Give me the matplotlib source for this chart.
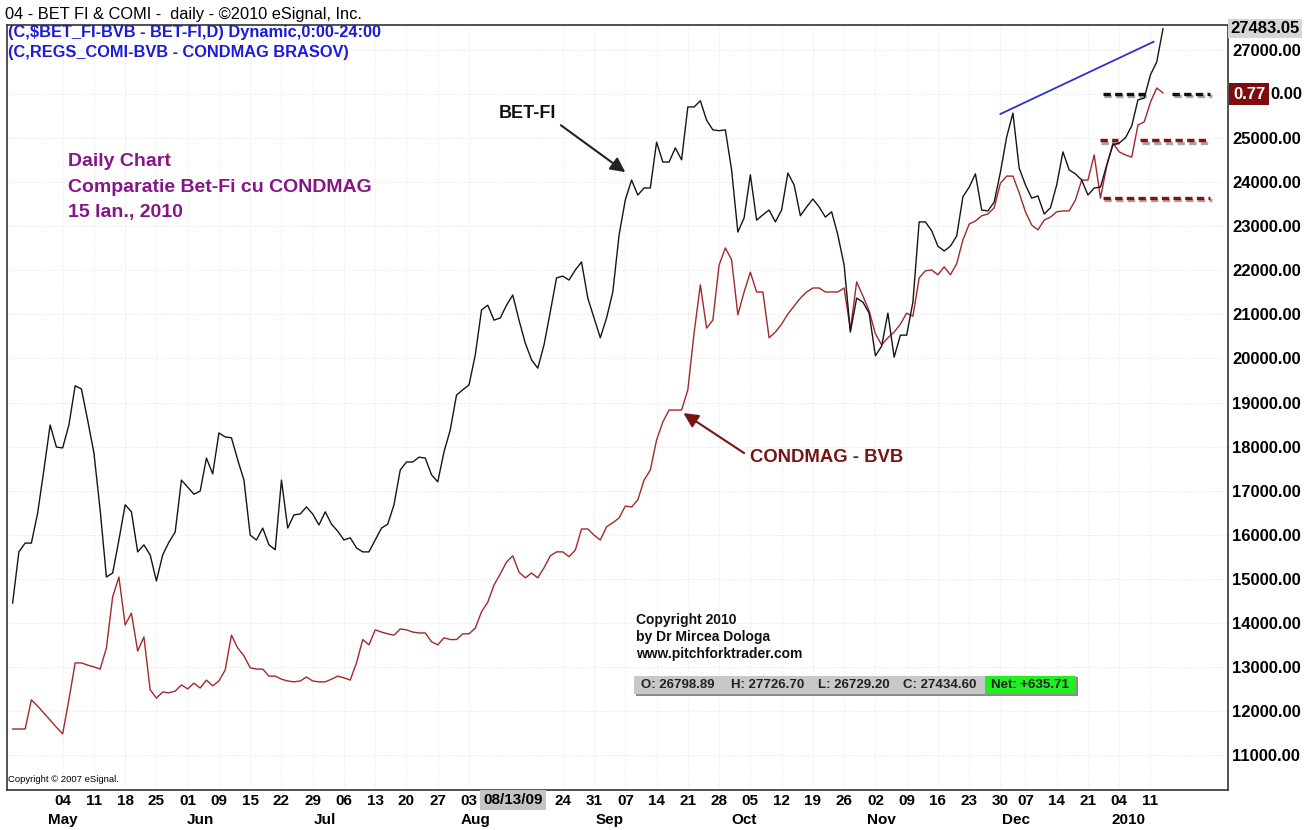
import numpy as np
import matplotlib.pyplot as plt
import matplotlib.transforms as mtransforms
import matplotlib.patheffects as pe
from matplotlib.patches import Rectangle

plt.rcParams['font.family'] = ['Liberation Sans', 'DejaVu Sans']

# daily closes, BET-FI (black) and CONDMAG scaled onto the same axis (red)
bet_fi = [14450, 15610, 15810, 15810, 16490, 17470, 18490, 17990, 17970, 18490,
          19380, 19310, 18600, 17860, 16560, 15040, 15130, 15880, 16680, 16520,
          15610, 15770, 15540, 14950, 15540, 15830, 16060, 17240, 17080, 16920,
          16990, 17740, 17380, 18310, 18220, 18200, 17700, 17240, 15990, 15880,
          16150, 15770, 15660, 17240, 16150, 16450, 16470, 16630, 16470, 16220,
          16520, 16240, 16080, 15880, 15930, 15700, 15610, 15610, 15880, 16150,
          16240, 16680, 17470, 17650, 17650, 17760, 17740, 17360, 17200, 17880,
          18380, 19170, 19290, 19400, 20080, 21100, 21210, 20870, 20920, 21210,
          21440, 20870, 20350, 19970, 19780, 20310, 21060, 21830, 21870, 21780,
          22010, 22190, 21370, 20920, 20470, 20920, 21510, 22800, 23600, 24050,
          23710, 23870, 23870, 24910, 24460, 24460, 24780, 24510, 25710, 25710,
          25850, 25410, 25190, 25170, 25190, 24280, 22870, 23190, 24170, 23140,
          23260, 23370, 23100, 23370, 24210, 23940, 23240, 23440, 23620, 23440,
          23210, 23330, 22800, 22120, 20600, 21370, 21280, 21030, 20060, 20280,
          21030, 20030, 20530, 20530, 21280, 23100, 23100, 22900, 22550, 22440,
          22550, 22780, 23670, 23890, 24190, 23370, 23350, 23550, 24230, 25030,
          25570, 24320, 23940, 23640, 23690, 23280, 23420, 23940, 24690, 24280,
          24190, 24050, 23710, 23870, 23890, 24390, 24850, 24890, 25010, 25280,
          25870, 25910, 26440, 26730, 27483]

condmag = [11590, 11590, 11590, 12250, 12110, 11950, 11790, 11630, 11480, 12250,
           13090, 13090, 13040, 13000, 12950, 13430, 14590, 15040, 13950, 14220,
           13360, 13680, 12480, 12290, 12430, 12410, 12450, 12590, 12500, 12630,
           12520, 12700, 12570, 12680, 12930, 13720, 13430, 13250, 12980, 12950,
           12950, 12790, 12790, 12720, 12680, 12660, 12680, 12770, 12680, 12660,
           12660, 12720, 12790, 12750, 12700, 13090, 13620, 13500, 13840, 13790,
           13750, 13720, 13860, 13840, 13790, 13770, 13770, 13570, 13500, 13660,
           13620, 13620, 13750, 13750, 13880, 14250, 14470, 14860, 15110, 15380,
           15520, 15150, 15020, 15130, 15020, 15250, 15520, 15610, 15610, 15500,
           15650, 16130, 16130, 15990, 15880, 16180, 16270, 16380, 16650, 16630,
           16790, 17240, 17470, 18150, 18560, 18830, 18830, 18830, 19290, 20580,
           21670, 20690, 20870, 22120, 22510, 22240, 20990, 21510, 21960, 21510,
           21510, 20470, 20600, 20780, 21010, 21190, 21370, 21510, 21600, 21600,
           21510, 21510, 21510, 21600, 20650, 21740, 21420, 21080, 20560, 20310,
           20470, 20600, 20780, 21030, 20960, 21830, 21990, 22010, 21900, 22080,
           21900, 22150, 22690, 23050, 23120, 23240, 23280, 23420, 23980, 24140,
           24140, 23760, 23330, 23030, 22920, 23140, 23210, 23330, 23350, 23350,
           23600, 24050, 24050, 24620, 23640, 24370, 24890, 24690, 24620, 24570,
           25300, 25370, 25820, 26140, 26030]

tick_pos = [8, 13, 18, 23, 28, 33, 38, 43, 48, 53, 58, 63, 68, 73, 88, 93, 98,
            103, 108, 113, 118, 123, 128, 133, 138, 143, 148, 153, 158, 162,
            167, 172, 177, 182]
tick_lbl = ["04", "11", "18", "25", "01", "09", "15", "22", "29", "06", "13",
            "20", "27", "03", "24", "31", "07", "14", "21", "28", "05", "12",
            "19", "26", "02", "09", "16", "23", "30", "07", "14", "21", "04", "11"]
months = ["May", "Jun", "Jul", "Aug", "Sep", "Oct", "Nov", "Dec", "2010"]
month_pos = [8, 30, 50, 74, 95.5, 117, 139, 160.5, 178.5]
cursor_pos = 80
cursor_lbl = "08/13/09"
last_price = 27483.05
ratio_flag = "0.77"
ratio_level = 26000

# drawn-on analysis: trend line and dashed levels
trend_x = [158, 182.5]
trend_y = [25550, 27190]
levels_black = [(174.4, 181.2, 26000), (185.5, 191.6, 26000)]
levels_red = [(173.9, 176.8, 24950), (180.4, 191.6, 24950), (174.4, 191.6, 23650)]

W, H = 1314, 830
fig = plt.figure(figsize=(W / 100, H / 100), dpi=100)
ax = fig.add_axes([7 / W, 1 - 790 / H, (1228 - 7) / W, (790 - 25) / H])

days = np.arange(len(bet_fi))
ax.plot(days, condmag, color='#a3282a', lw=1.0, zorder=3)
ax.plot(days, bet_fi, color='#151515', lw=1.0, zorder=4)

ax.plot(trend_x, trend_y, color='#2f2fd8', lw=1.3, zorder=5)
shadow = [pe.SimpleLineShadow(offset=(1, -1.5), alpha=0.35), pe.Normal()]
for x0, x1, v in levels_black:
    ax.plot([x0, x1], [v, v], color='#111111', lw=2.4, ls=(0, (2.2, 1.3)),
            path_effects=shadow, zorder=5)
for x0, x1, v in levels_red:
    ax.plot([x0, x1], [v, v], color='#8a1010', lw=2.4, ls=(0, (2.2, 1.3)),
            path_effects=shadow, zorder=5)

ax.set_xlim(-0.9, 194.4)
ax.set_ylim(10205, 27570)

ax.yaxis.tick_right()
yt = np.arange(11000, 27001, 1000)
ax.set_yticks(yt)
# the 26000 label is partly hidden behind the ratio flag, drawn separately below
ax.set_yticklabels(["" if v == ratio_level else "%.2f" % v for v in yt],
                   fontsize=12, fontweight='bold')
ax.tick_params(axis='y', length=0, pad=3)
ax.set_xticks(tick_pos)
ax.set_xticklabels(tick_lbl, fontsize=11, fontweight='bold')
ax.tick_params(axis='x', length=0, pad=3)
ax.grid(True, color='#e4e4e4', lw=0.7, ls=':')
for s in ax.spines.values():
    s.set_color('#333333')
    s.set_linewidth(1.2)

trans = mtransforms.blended_transform_factory(ax.transData, ax.transAxes)
for m, p in zip(months, month_pos):
    ax.text(p, -0.039, m, transform=trans, ha='center', va='center',
            fontsize=11, fontweight='bold')
ax.text(cursor_pos, -0.013, cursor_lbl, transform=trans, ha='center', va='center',
        fontsize=11, fontweight='bold', zorder=10,
        bbox=dict(boxstyle='square,pad=0.22', fc='#c4c4c4', ec='none'))

# price flags on the right scale
ytrans = mtransforms.blended_transform_factory(ax.transAxes, ax.transData)
ax.text(1.002, bet_fi[-1], "%.2f" % last_price, transform=ytrans, ha='left',
        va='center', fontsize=12, fontweight='bold', clip_on=False, zorder=10,
        bbox=dict(boxstyle='square,pad=0.12', fc='#d6d6d6', ec='none'))
ax.text(1.004, ratio_level, ratio_flag, transform=ytrans, ha='left', va='center',
        fontsize=12, fontweight='bold', color='white', clip_on=False, zorder=10,
        bbox=dict(boxstyle='square,pad=0.22', fc='#7d0d0d', ec='none'))
ax.text(1.0345, ratio_level, ("%.2f" % ratio_level)[-4:], transform=ytrans,
        ha='left', va='center', fontsize=12, fontweight='bold', clip_on=False)

# annotations
ax.annotate("BET-FI", xy=(98, 24230), xytext=(82.3, 25570), fontsize=13,
            fontweight='bold', ha='center', va='center', color='#111111',
            arrowprops=dict(arrowstyle='-|>', color='#222222', lw=1.5,
                            mutation_scale=22, relpos=(1, 0), shrinkA=2, shrinkB=0))
ax.annotate("CONDMAG - BVB", xy=(107.3, 18760), xytext=(118, 17760), fontsize=13.3,
            fontweight='bold', ha='left', va='center', color='#7a1414',
            arrowprops=dict(arrowstyle='-|>', color='#7a1414', lw=1.5,
                            mutation_scale=22, relpos=(0, 0.5), shrinkA=3, shrinkB=0))


def ftext(x, y, s, **kw):
    fig.text(x / W, 1 - y / H, s, va='center', **kw)


ftext(5, 14, "04 - BET FI & COMI -  daily - \u00a92010 eSignal, Inc.", fontsize=11.8)
ftext(8, 33, "(C,$BET_FI-BVB - BET-FI,D) Dynamic,0:00-24:00", fontsize=11.8,
      fontweight='bold', color='#1c1cd8')
ftext(8, 53, "(C,REGS_COMI-BVB - CONDMAG BRASOV)", fontsize=11.8,
      fontweight='bold', color='#1c1cd8')

for i, line in enumerate(["Daily Chart", "Comparatie Bet-Fi cu CONDMAG", "15 Ian., 2010"]):
    ftext(68, 162 + 25 * i, line, fontsize=14, fontweight='bold', color='#861686')

for i, line in enumerate(["Copyright 2010", "by Dr Mircea Dologa", "www.pitchforktrader.com"]):
    ftext(636, 620 + 17 * i, line, fontsize=10, fontweight='bold', color='#111111')

ftext(8, 779, "Copyright \u00a9 2007 eSignal.", fontsize=6.8)

# OHLC status bar
fig.patches.append(Rectangle((636 / W, 1 - 696 / H), (1078 - 636) / W, 19 / H,
                             transform=fig.transFigure, fc='#8c8c8c', ec='none', zorder=1))
fig.patches.append(Rectangle((634 / W, 1 - 694 / H), (1076 - 634) / W, 18 / H,
                             transform=fig.transFigure, fc='#c8c8c8', ec='none', zorder=2))
fig.patches.append(Rectangle((985 / W, 1 - 694 / H), (1076 - 985) / W, 18 / H,
                             transform=fig.transFigure, fc='#22ee22', ec='none', zorder=3))
for x, s in [(641, "O: 26798.89"), (731, "H: 27726.70"), (818, "L: 26729.20"),
             (903, "C: 27434.60"), (991, "Net: +635.71")]:
    ftext(x, 685, s, fontsize=9.5, fontweight='bold', color='#222222', zorder=5)

fig.savefig("out.png", dpi=100)
